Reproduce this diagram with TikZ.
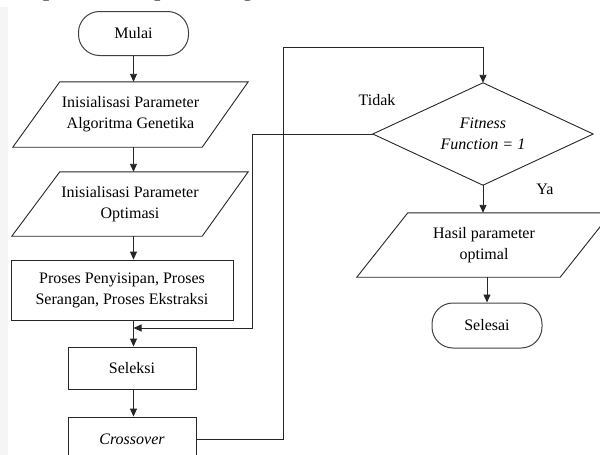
\documentclass[tikz,border=0pt]{standalone}
\usepackage{fontspec}
\setmainfont{Liberation Serif}
\usetikzlibrary{arrows.meta}
\begin{document}
\begin{tikzpicture}[x=1pt,y=-1pt,
  every node/.style={font=\fontsize{16}{21}\selectfont, inner sep=0pt, align=center},
  itx/.style={font=\fontsize{16}{21}\selectfont\itshape},
  line/.style={line width=0.9pt, draw=black!85},
  arr/.style={line, -{Triangle[length=8pt,width=7pt]}},
  term/.style={draw=black!75, line width=1pt, rounded corners=21pt},
  box/.style={draw=black!85, line width=0.9pt}
]
\useasboundingbox (0,0) rectangle (600,455);
\clip (0,0) rectangle (600,455);
\fill[black!4] (0,7) rectangle (8,455);
\node[anchor=base west, font=\fontsize{26}{30}\selectfont] (hdr) at (0,-4.5) {a dapat dilihat pada diagram alir berikut.};

% left column
\node[term, minimum width=110pt, minimum height=44pt] (mulai) at (133.5,33.5) {Mulai};
\node[minimum width=235pt, minimum height=65pt] (p1) at (130.5,114.5) {Inisialisasi Parameter\\Algoritma Genetika};
\draw[box] ([xshift=47pt]p1.north west) -- (p1.north east) -- ([xshift=-46pt]p1.south east) -- (p1.south west) -- cycle;
\node[minimum width=236pt, minimum height=64pt] (p2) at (130,204) {Inisialisasi Parameter\\Optimasi};
\draw[box] ([xshift=48pt]p2.north west) -- (p2.north east) -- ([xshift=-46pt]p2.south east) -- (p2.south west) -- cycle;
\node[box, minimum width=222pt, minimum height=60pt] (proses) at (122,290) {Proses Penyisipan, Proses\\Serangan, Proses Ekstraksi};
\node[box, minimum width=128pt, minimum height=42pt] (seleksi) at (132,368) {Seleksi};
\node[box, itx, minimum width=128pt, minimum height=44pt] (cross) at (132,439) {Crossover};

% right column
\node[itx, minimum width=220pt, minimum height=102pt] (dec) at (483,134) {Fitness\\Function = 1};
\draw[box] (dec.north) -- (dec.east) -- (dec.south) -- (dec.west) -- cycle;
\node (tidak) at (377,100) {Tidak};
\node (ya) at (545,189) {Ya};
\node[minimum width=254pt, minimum height=64pt] (p3) at (484,245) {Hasil parameter\\optimal};
\draw[box] ([xshift=51pt]p3.north west) -- (p3.north east) -- ([xshift=-51pt]p3.south east) -- (p3.south west) -- cycle;
\node[term, minimum width=110pt, minimum height=45pt] (selesai) at (487,325.5) {Selesai};

% connectors
\draw[arr] (mulai.south) -- (mulai.south |- p1.north);
\draw[arr] (p1.south -| mulai.south) -- (p2.north -| mulai.south);
\draw[arr] (p2.south -| mulai.south) -- (proses.north -| mulai.south);
\draw[arr] (proses.south -| mulai.south) -- (seleksi.north -| mulai.south);
\draw[arr] (seleksi.south -| mulai.south) -- (cross.north -| mulai.south);

\coordinate (tk) at (252,328);
\coordinate (merge) at (133.5,328);
\draw[arr] (dec.west) -| (tk) -- (merge);

\coordinate (cr) at (283,47);
\draw[arr] (cross.east) -| (cr) -| (dec.north);

\draw[arr] (dec.south) -- (dec.south |- p3.north);
\draw[arr] (p3.south -| selesai.north) -- (selesai.north);
\end{tikzpicture}
\end{document}
